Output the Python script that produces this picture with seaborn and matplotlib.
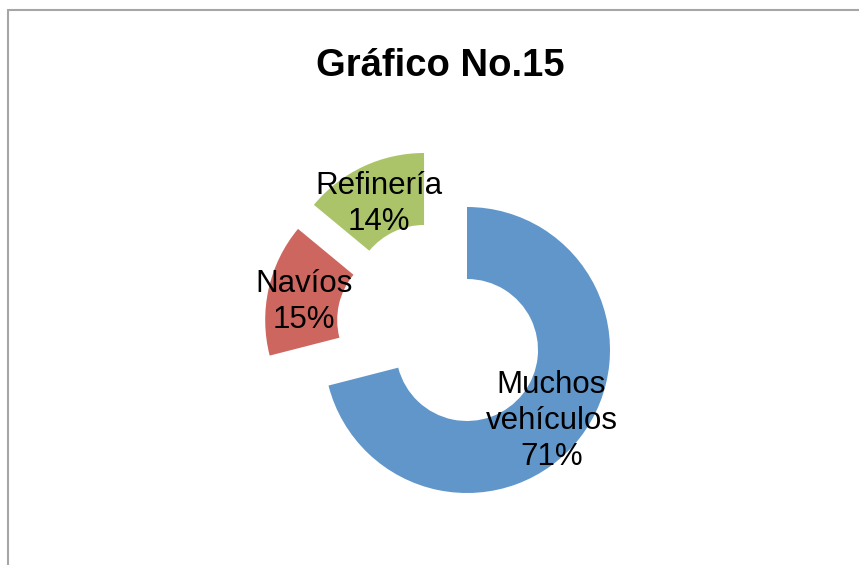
import numpy as np
import matplotlib
matplotlib.use("Agg")
import matplotlib.pyplot as plt
from matplotlib.lines import Line2D
import seaborn as sns

# data
labels = ["Muchos\nvehículos", "Navíos", "Refinería"]
shares = [71, 15, 14]
slice_colors = ["#6096CA", "#CD665F", "#ABC46A"]

title = "Gráfico No.15"

# how far each slice is pulled out (px) and in which direction (deg)
explode_dist = [0, 66, 69]
explode_angle = [0, 153, 128.5]

W, H = 859, 565
CENTER = (467, H - 350)
OUTER_R = 143
RING_W = 72
LABEL_DROP = 5

sns.set_theme(style="white")
plt.rcParams["font.family"] = ["Liberation Sans", "DejaVu Sans"]

fig = plt.figure(figsize=(W / 100, H / 100), dpi=100)
ax = fig.add_axes([0, 0, 1, 1])

wedges, _, pct_texts = ax.pie(
    shares,
    colors=slice_colors,
    startangle=90,
    counterclock=False,
    radius=OUTER_R,
    center=CENTER,
    autopct="%d%%",
    pctdistance=(OUTER_R - RING_W / 2) / OUTER_R,
    wedgeprops=dict(width=RING_W, linewidth=0),
    textprops=dict(fontsize=22.5, color="black"),
)

for wedge, txt, lab, val, dist, ang in zip(
    wedges, pct_texts, labels, shares, explode_dist, explode_angle
):
    dx = dist * np.cos(np.radians(ang))
    dy = dist * np.sin(np.radians(ang))
    wedge.set_center((CENTER[0] + dx, CENTER[1] + dy))
    x, y = txt.get_position()
    txt.set_position((x + dx, y + dy - LABEL_DROP))
    txt.set_text(f"{lab}\n{val}%")
    txt.set_ha("center")
    txt.set_va("center")
    txt.set_multialignment("center")
    txt.set_linespacing(1.26)

ax.set_xlim(0, W)
ax.set_ylim(0, H)
ax.set_aspect("equal")
ax.axis("off")

fig.text(440.5 / W, 1 - 76 / H, title, ha="center", va="baseline",
         fontsize=27.5, fontweight="bold", color="black")

# chart-area border (only top and left edges are inside the crop)
border = "#A6A6A6"
fig.add_artist(Line2D([8 / W, 1], [1 - 10 / H, 1 - 10 / H], color=border, lw=1.5,
                      transform=fig.transFigure))
fig.add_artist(Line2D([8 / W, 8 / W], [0, 1 - 10 / H], color=border, lw=1.5,
                      transform=fig.transFigure))

fig.savefig("out.png", dpi=100)
